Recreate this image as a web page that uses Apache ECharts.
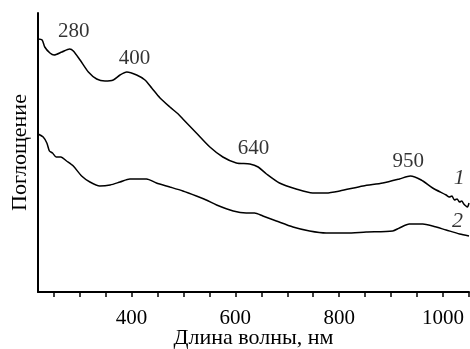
<!DOCTYPE html>
<html><head><meta charset="utf-8">
<script src="https://cdn.jsdelivr.net/npm/echarts@6/dist/echarts.min.js"></script>
<style>html,body{margin:0;padding:0;background:#fff}#c{width:470px;height:349px}</style>
</head><body><div id="c"></div>
<script>
// Curve 1
const wl1 = [220,228,233,243,251,266,281,288,301,317,333,349,365,378,391,410,426,439,455,474,490,499,525,551,576,602,628,644,660,685,717,749,775,801,846,884,916,937,958,980,1006,1012,1017,1022,1027,1032,1036,1040,1044,1047,1050];
const abs1 = [2.53,2.52,2.45,2.39,2.37,2.40,2.43,2.41,2.32,2.20,2.13,2.11,2.12,2.17,2.20,2.17,2.12,2.04,1.94,1.85,1.78,1.73,1.59,1.45,1.35,1.29,1.28,1.25,1.18,1.09,1.03,0.99,0.99,1.01,1.06,1.09,1.13,1.16,1.12,1.04,0.97,0.95,0.96,0.92,0.93,0.90,0.91,0.88,0.86,0.85,0.89];
// Curve 2
const wl2 = [220,230,237,242,248,255,264,275,288,304,320,339,359,378,397,429,448,474,499,525,544,564,596,621,637,653,679,711,743,775,814,852,903,916,935,961,980,1006,1032,1050];
const abs2 = [1.58,1.55,1.49,1.41,1.39,1.35,1.35,1.31,1.26,1.16,1.10,1.06,1.07,1.10,1.13,1.13,1.09,1.05,1.01,0.96,0.92,0.87,0.81,0.79,0.79,0.76,0.71,0.65,0.61,0.59,0.59,0.60,0.61,0.64,0.68,0.68,0.66,0.62,0.58,0.56];
// Annotations
const annText = ['280','400','640','950'];
const annX = [289,406,635,933];
const annY = [2.61,2.34,1.44,1.31];
const curveLabels = ['1','2'];
const curveLabelX = [1031,1028];
const curveLabelY = [1.14,0.71];
const tickValues = [250,300,350,400,450,500,550,600,650,700,750,800,850,900,950,1000,1050];
const labelValues = [400,600,800,1000];

const zip = (a,b)=>a.map((v,i)=>[v,b[i]]);
const font = '"Liberation Serif","Times New Roman",serif';
const chart = echarts.init(document.getElementById('c'));
chart.setOption({
  animation:false,
  grid:{left:38,right:1,top:13,bottom:57,containLabel:false,outerBoundsMode:'none'},
  xAxis:{type:'value',min:220,max:1050,
    name:'Длина волны, нм',nameLocation:'middle',nameGap:35,nameMoveOverlap:false,
    nameTextStyle:{fontFamily:font,fontSize:22,color:'#000'},
    axisLine:{lineStyle:{color:'#000',width:2}},
    axisTick:{show:true,length:5,inside:false,customValues:tickValues,lineStyle:{color:'#000',width:1.5}},
    axisLabel:{customValues:labelValues,formatter:v=>String(v),fontFamily:font,fontSize:21,color:'#000',margin:16},
    splitLine:{show:false}},
  yAxis:{type:'value',min:0,max:2.79,
    name:'Поглощение',nameLocation:'middle',nameGap:7,nameMoveOverlap:false,
    nameTextStyle:{fontFamily:font,fontSize:22,color:'#000'},
    axisLine:{show:true,lineStyle:{color:'#000',width:2}},
    axisTick:{show:false},axisLabel:{show:false},splitLine:{show:false}},
  series:[
    {type:'line',data:zip(wl1,abs1),showSymbol:false,smooth:0.25,lineStyle:{color:'#000',width:1.5}},
    {type:'line',data:zip(wl2,abs2),showSymbol:false,smooth:0.25,lineStyle:{color:'#000',width:1.5}},
    {type:'scatter',symbolSize:0,data:annX.map((x,i)=>({value:[x,annY[i]],label:{formatter:annText[i]}})),
      label:{show:true,position:'inside',fontFamily:font,fontSize:21,color:'#000'}},
    {type:'scatter',symbolSize:0,data:curveLabelX.map((x,i)=>({value:[x,curveLabelY[i]],label:{formatter:curveLabels[i]}})),
      label:{show:true,position:'inside',fontFamily:font,fontSize:22,fontStyle:'italic',color:'#000'}}
  ]
});
</script></body></html>
